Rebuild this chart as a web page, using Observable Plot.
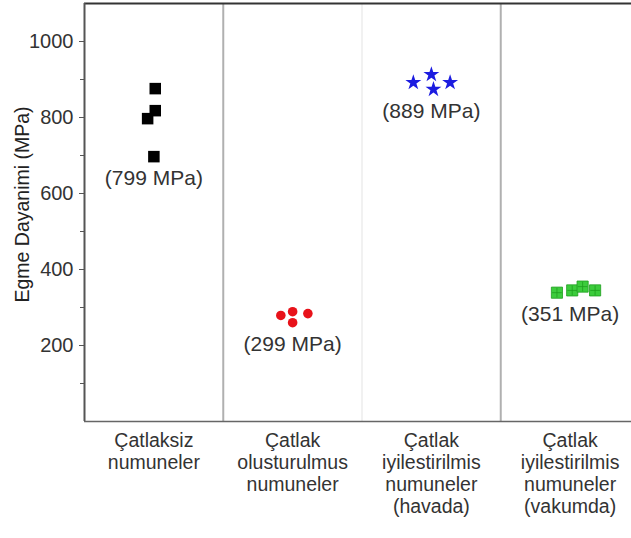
<!DOCTYPE html>
<html>
<head>
<meta charset="utf-8">
<script src="https://cdn.jsdelivr.net/npm/d3@7"></script>
<script src="https://cdn.jsdelivr.net/npm/@observablehq/plot@0.6"></script>
<style>
  html, body { margin: 0; padding: 0; background: white; overflow: hidden; }
</style>
</head>
<body>
<div id="chart"></div>
<script>
// ---- data ----
const categories = [
  "Çatlaksiz\nnumuneler",
  "Çatlak\nolusturulmus\nnumuneler",
  "Çatlak\niyilestirilmis\nnumuneler\n(havada)",
  "Çatlak\niyilestirilmis\nnumuneler\n(vakumda)"
];
const meanValues = [799, 299, 889, 351];
const cracklessValues = [876, 818, 797, 697];
const crackedValues = [279, 289, 260, 284];
const healedAirValues = [892, 913, 874, 892];
const healedVacuumValues = [339, 345, 355, 345];
const yTicks = [200, 400, 600, 800, 1000];
const yMinorTicks = [100, 300, 500, 700, 900];
const yLabel = "Egme Dayanimi (MPa)";

// horizontal arrangement of the specimens inside each column (band units)
const cracklessJitter = [0.01, 0.01, -0.045, 0.0];
const crackedJitter = [-0.085, 0.0, 0.0, 0.11];
const healedAirJitter = [-0.13, 0.0, 0.015, 0.135];
const healedVacuumJitter = [-0.095, 0.015, 0.09, 0.18];

const toRows = (vals, jit, i) => vals.map((v, k) => ({x: i + 0.5 + jit[k], y: v}));
const crackless = toRows(cracklessValues, cracklessJitter, 0);
const cracked = toRows(crackedValues, crackedJitter, 1);
const healedAir = toRows(healedAirValues, healedAirJitter, 2);
const healedVacuum = toRows(healedVacuumValues, healedVacuumJitter, 3);
const groups = [cracklessValues, crackedValues, healedAirValues, healedVacuumValues];
const meanRows = meanValues.map((m, i) => ({x: i + 0.5, y: d3.min(groups[i]), label: `(${m} MPa)`}));
const catTicks = categories.map((c, i) => i + 0.5);

const font = "'Liberation Sans', Arial, Helvetica, sans-serif";

const chart = Plot.plot({
  width: 631,
  height: 538,
  marginLeft: 84,
  marginRight: 0,
  marginTop: 3,
  marginBottom: 117,
  x: {domain: [0, 4], range: [84, 639]},
  y: {domain: [0, 1100]},
  style: {fontFamily: font, color: "#333", background: "white", overflow: "hidden"},
  marks: [
    // separators
    Plot.ruleX([1, 3], {stroke: "#b0b0b0", strokeWidth: 2}),
    Plot.ruleX([2], {stroke: "#ececec", strokeWidth: 1.5}),
    // frame
    Plot.ruleY([1100], {stroke: "#333", strokeWidth: 2}),
    Plot.ruleY([0], {stroke: "#666", strokeWidth: 1.5}),
    // y axis
    Plot.axisY(yTicks, {
      tickSize: 5, tickPadding: 6, fontSize: 20, stroke: "#555", tickFormat: "d",
      label: null
    }),
    Plot.axisY(yMinorTicks, {tickSize: 4, tickFormat: () => "", stroke: "#555", label: null}),
    Plot.text([yLabel], {
      frameAnchor: "left", textAnchor: "middle", dx: -62, dy: -8, rotate: -90,
      fontSize: 19.5, fill: "#222"
    }),
    Plot.ruleX([0], {stroke: "#555", strokeWidth: 2}),
    // x axis (category labels)
    Plot.axisX(catTicks, {
      tickSize: 0, tickPadding: 10, fontSize: 19.5, lineHeight: 1.13,
      tickFormat: (d) => categories[Math.round(d - 0.5)], label: null
    }),
    // specimens
    Plot.dot(crackless, {x: "x", y: "y", symbol: "square", r: 6.5, fill: "#000"}),
    Plot.dot(cracked, {x: "x", y: "y", symbol: "circle", r: 4.8, fill: "#e8121a"}),
    Plot.dot(healedAir, {x: "x", y: "y", symbol: "star", r: 5, fill: "#1c1ce0"}),
    Plot.dot(healedVacuum, {x: "x", y: "y", symbol: "square", r: 6.3, fill: "#3ccc3c", stroke: "#1e9e1e", strokeWidth: 0.8}),
    Plot.dot(healedVacuum, {x: "x", y: "y", symbol: "plus", r: 3.2, stroke: "#1e9e1e", strokeWidth: 0.8}),
    // mean labels
    Plot.text(meanRows, {x: "x", y: "y", text: "label", dy: 22, fontSize: 21, fill: "#333"})
  ]
});
document.getElementById("chart").append(chart);
</script>
</body>
</html>
